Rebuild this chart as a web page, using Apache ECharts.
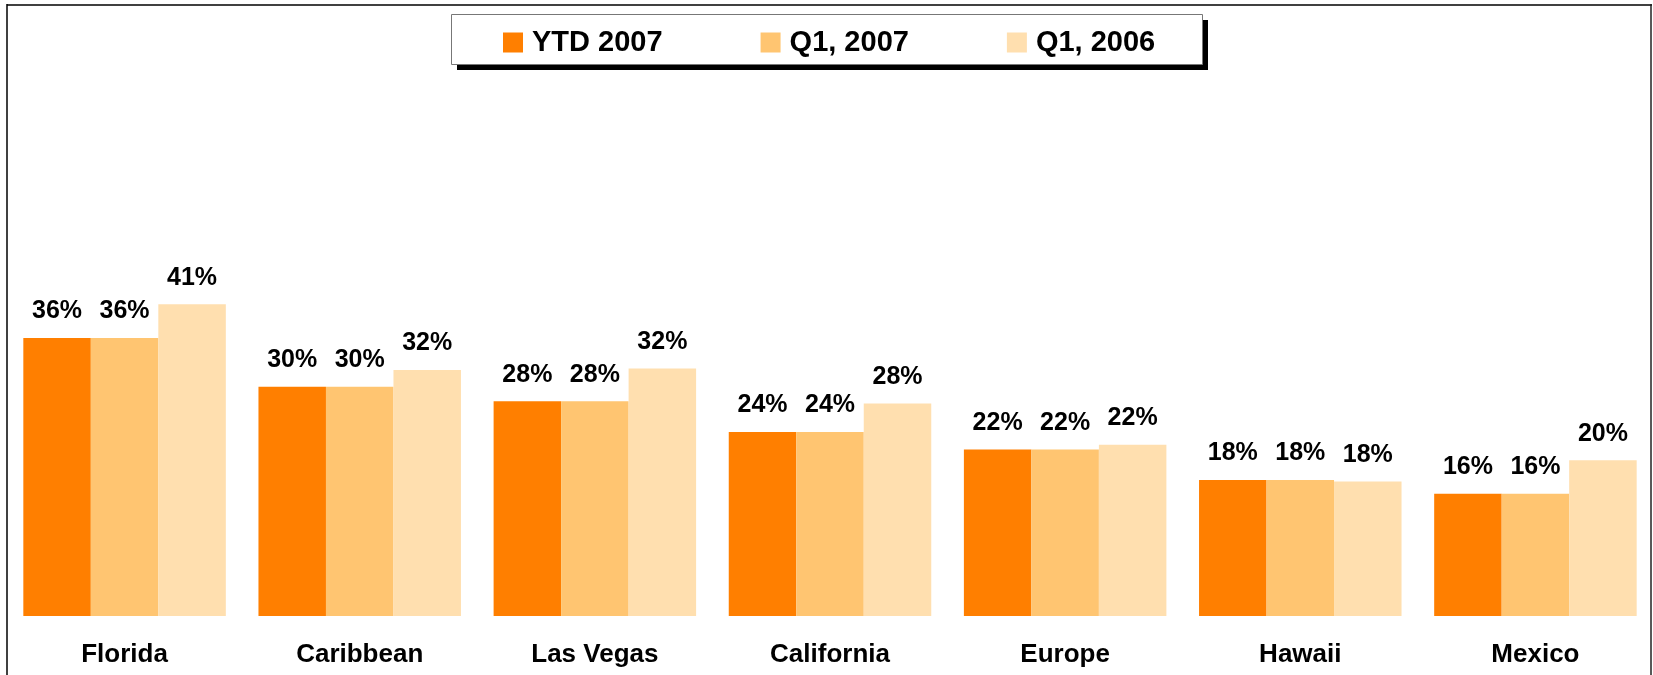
<!DOCTYPE html>
<html>
<head>
<meta charset="utf-8">
<title>Destinations</title>
<script src="https://cdn.jsdelivr.net/npm/echarts@6/dist/echarts.min.js"></script>
<style>
  html, body { margin: 0; padding: 0; background: #fff; }
  #main { width: 1653px; height: 675px; }
</style>
</head>
<body>
<div id="main"></div>
<script>
// 各目的地占比（%），标签显示四舍五入后的整数
const categories = ['Florida', 'Caribbean', 'Las Vegas', 'California', 'Europe', 'Hawaii', 'Mexico']
const ytd2007 = [36.4, 30.0, 28.1, 24.1, 21.8, 17.8, 16.0]
const q1of2007 = [36.4, 30.0, 28.1, 24.1, 21.8, 17.8, 16.0]
const q1of2006 = [40.8, 32.2, 32.4, 27.8, 22.4, 17.6, 20.4]
const seriesNames = ['YTD 2007', 'Q1, 2007', 'Q1, 2006']
const seriesColors = ['#FF7F00', '#FFC571', '#FFDFAF']

const font = "'Liberation Sans', Arial, sans-serif"
const chart = echarts.init(document.getElementById('main'))

// 每个系列的公共配置
function makeSeries (name, data, color) {
  return {
    name: name,
    type: 'bar',
    data: data,
    barWidth: 67.5,
    barGap: '0%',
    itemStyle: { color: color },
    label: {
      show: true,
      position: 'top',
      distance: 14,
      color: '#000',
      fontFamily: font,
      fontWeight: 'bold',
      fontSize: 25,
      formatter: (p) => Math.round(p.value) + '%'
    }
  }
}

const option = {
  animation: false,
  backgroundColor: '#fff',
  legend: {
    left: 451,
    top: 14,
    padding: [14, 41, 14, 52],
    itemGap: 98,
    itemWidth: 20,
    itemHeight: 20,
    icon: 'rect',
    textStyle: {
      fontFamily: font,
      fontWeight: 'bold',
      fontSize: 29,
      color: '#000',
      lineHeight: 22,
      padding: [0, 0, 0, 4]
    },
    data: seriesNames
  },
  grid: {
    left: 7,
    right: 0,
    top: 234,
    bottom: 59
  },
  xAxis: {
    type: 'category',
    data: categories,
    axisLine: { show: false },
    axisTick: { show: false },
    axisLabel: {
      margin: 26,
      color: '#000',
      fontFamily: font,
      fontWeight: 'bold',
      fontSize: 26
    }
  },
  yAxis: {
    type: 'value',
    min: 0,
    max: 50,
    show: false,
    splitLine: { show: false }
  },
  // 外框线 + 图例的框和阴影
  graphic: [
    { type: 'line', z: 1, shape: { x1: 7, y1: 5, x2: 1652, y2: 5 }, style: { stroke: '#404040', lineWidth: 2 } },
    { type: 'line', z: 1, shape: { x1: 7, y1: 4, x2: 7, y2: 675 }, style: { stroke: '#000', lineWidth: 1.5 } },
    { type: 'line', z: 1, shape: { x1: 1651, y1: 4, x2: 1651, y2: 675 }, style: { stroke: '#222', lineWidth: 1.5 } },
    { type: 'rect', z: 1, shape: { x: 457, y: 20, width: 751, height: 50 }, style: { fill: '#000' } },
    { type: 'rect', z: 2, shape: { x: 451.5, y: 14.5, width: 751, height: 50 }, style: { fill: '#fff', stroke: '#777', lineWidth: 1 } }
  ],
  series: [
    makeSeries(seriesNames[0], ytd2007, seriesColors[0]),
    makeSeries(seriesNames[1], q1of2007, seriesColors[1]),
    makeSeries(seriesNames[2], q1of2006, seriesColors[2])
  ]
}

chart.setOption(option)
</script>
</body>
</html>
